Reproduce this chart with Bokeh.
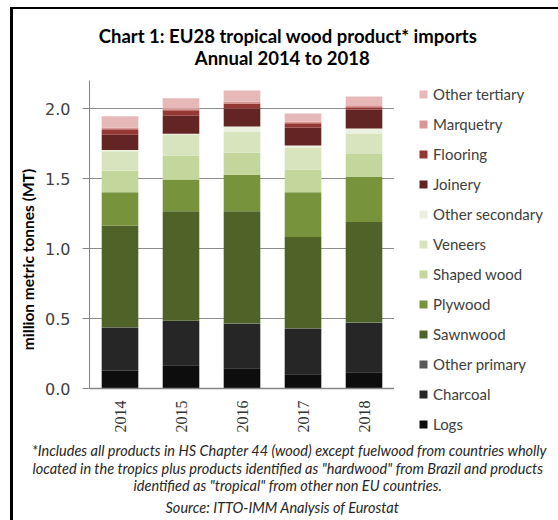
import math
from bokeh.plotting import figure
from bokeh.layouts import column, row
from bokeh.models import (ColumnDataSource, Legend, LegendItem, Label, FixedTicker,
                          PrintfTickFormatter, Range1d, FactorRange)
from bokeh.embed import file_html
from bokeh.resources import INLINE

years = ["2014", "2015", "2016", "2017", "2018"]
products = ["Logs", "Charcoal", "Other primary", "Sawnwood", "Plywood", "Shaped wood",
            "Veneers", "Other secondary", "Joinery", "Flooring", "Marquetry", "Other tertiary"]

logs            = [0.126, 0.166, 0.145, 0.102, 0.116]
charcoal        = [0.309, 0.316, 0.318, 0.326, 0.354]
other_primary   = [0.002, 0.002, 0.002, 0.002, 0.002]
sawnwood        = [0.727, 0.782, 0.801, 0.653, 0.718]
plywood         = [0.237, 0.226, 0.261, 0.318, 0.321]
shaped_wood     = [0.155, 0.173, 0.157, 0.164, 0.164]
veneers         = [0.138, 0.145, 0.152, 0.152, 0.147]
other_secondary = [0.009, 0.010, 0.036, 0.019, 0.035]
joinery         = [0.109, 0.128, 0.128, 0.129, 0.136]
flooring        = [0.040, 0.040, 0.035, 0.030, 0.016]
marquetry       = [0.012, 0.012, 0.014, 0.012, 0.014]
other_tertiary  = [0.081, 0.074, 0.079, 0.057, 0.063]

colors = ["#0d0d0d", "#262626", "#595959", "#4f6228", "#77933c", "#c3d69b",
          "#d7e4bd", "#ebf1de", "#632523", "#953735", "#d99694", "#e6b9b8"]

y_ticks = [0.0, 0.5, 1.0, 1.5, 2.0]
y_max = 2.2
title_lines = ["Chart 1: EU28 tropical wood product* imports", "Annual  2014 to 2018"]
footnote_lines = [
    "*Includes all products in HS Chapter 44 (wood) except fuelwood from countries wholly",
    "located in  the tropics plus products identified as \"hardwood\" from Brazil and products",
    "identified as \"tropical\" from other non  EU countries.",
]
source_line = "Source: ITTO-IMM Analysis of Eurostat"

series = [logs, charcoal, other_primary, sawnwood, plywood, shaped_wood, veneers,
          other_secondary, joinery, flooring, marquetry, other_tertiary]
data = {"year": years}
for name, vals in zip(products, series):
    data[name] = vals
src = ColumnDataSource(data)


def blank(w, h):
    f = figure(width=w, height=h, min_border=0, x_axis_type=None, y_axis_type=None,
               toolbar_location=None, output_backend="svg",
               x_range=Range1d(0, 1), y_range=Range1d(0, 1))
    f.outline_line_color = None
    f.grid.visible = False
    return f


# ---- title strip ----
top = blank(545, 71)
top.add_layout(Label(x=274.5, y=45, x_units="screen", y_units="screen", text=title_lines[0],
                     text_align="center", text_baseline="middle", text_font="Lato",
                     text_font_style="bold", text_font_size="18.5px", text_color="#000000"))
top.add_layout(Label(x=271, y=23, x_units="screen", y_units="screen", text=title_lines[1],
                     text_align="center", text_baseline="middle", text_font="Lato",
                     text_font_style="bold", text_font_size="18.5px", text_color="#000000"))

# ---- main bar chart ----
# plot area: 308 px for 0..y_max, plus 50 px below zero for the category labels
plot_h, below_h = 308, 50
p = figure(x_range=FactorRange(*years),
           y_range=Range1d(-y_max * below_h / plot_h, y_max),
           frame_width=305, frame_height=plot_h + below_h,
           output_backend="svg", toolbar_location=None,
           min_border_left=76, min_border_right=0, min_border_top=0, min_border_bottom=0)
p.vbar_stack(products, x="year", width=0.6, source=src, fill_color=colors, line_color=None)

p.yaxis.bounds = (0, y_max)
p.yaxis.ticker = FixedTicker(ticks=y_ticks)
p.yaxis.formatter = PrintfTickFormatter(format="%.1f")
p.yaxis.axis_label = "million metric tonnes (MT)"
p.yaxis.axis_label_text_font = "Lato"
p.yaxis.axis_label_text_font_style = "bold"
p.yaxis.axis_label_text_font_size = "15.5px"
p.yaxis.axis_label_text_color = "#000000"
p.yaxis.axis_label_standoff = 5
p.yaxis.major_tick_out = 7
p.yaxis.major_tick_in = 0
p.yaxis.minor_tick_line_color = None
p.yaxis.axis_line_color = "#868686"
p.yaxis.major_tick_line_color = "#868686"
p.yaxis.major_label_text_font = "DejaVu Sans"
p.yaxis.major_label_text_font_size = "16px"
p.yaxis.major_label_text_color = "#404040"
p.yaxis.major_label_standoff = 12

p.xaxis.fixed_location = 0
p.xaxis.major_label_orientation = math.pi / 2
p.xaxis.major_tick_line_color = None
p.xaxis.major_tick_out = 0
p.xaxis.axis_line_color = "#868686"
p.xaxis.axis_line_width = 1.5
p.xaxis.major_label_standoff = 12
p.xaxis.major_label_text_font = "Liberation Serif"
p.xaxis.major_label_text_font_size = "16px"
p.xaxis.major_label_text_color = "#333333"

p.xgrid.visible = False
p.ygrid.ticker = FixedTicker(ticks=y_ticks)
p.ygrid.grid_line_color = "#8c8c8c"
p.outline_line_color = None

# ---- legend panel ----
leg = blank(164, plot_h + below_h)
items = []
for name, c in zip(products, colors):
    r = leg.scatter(x=[0.5], y=[0.5], marker="square", fill_color=c, line_color=None,
                    visible=False)
    items.append(LegendItem(label=name, renderers=[r]))
items = items[::-1]
legend = Legend(items=items, location=(19, 4), orientation="vertical",
                glyph_width=20, glyph_height=20, label_height=20, spacing=10,
                padding=0, margin=0, label_standoff=-2, border_line_color=None,
                background_fill_alpha=0, inactive_fill_alpha=0, label_text_font="Lato",
                label_text_font_size="15px", label_text_color="#404040")
leg.add_layout(legend)

# ---- footnotes strip ----
bot = blank(545, 82)
for txt, xx, yy in zip(footnote_lines + [source_line], [276, 276, 276, 269], [70, 52, 35, 13]):
    bot.add_layout(Label(x=xx, y=yy, x_units="screen", y_units="screen", text=txt,
                         text_align="center", text_baseline="middle", text_font="Lato",
                         text_font_style="italic", text_font_size="14.5px",
                         text_color="#262626"))

layout = column(top, row(p, leg), bot,
                styles={"margin-left": "10px", "margin-top": "7px",
                        "border-left": "3px solid black", "border-top": "2px solid black"})

open("out.html", "w").write(file_html(layout, INLINE))
